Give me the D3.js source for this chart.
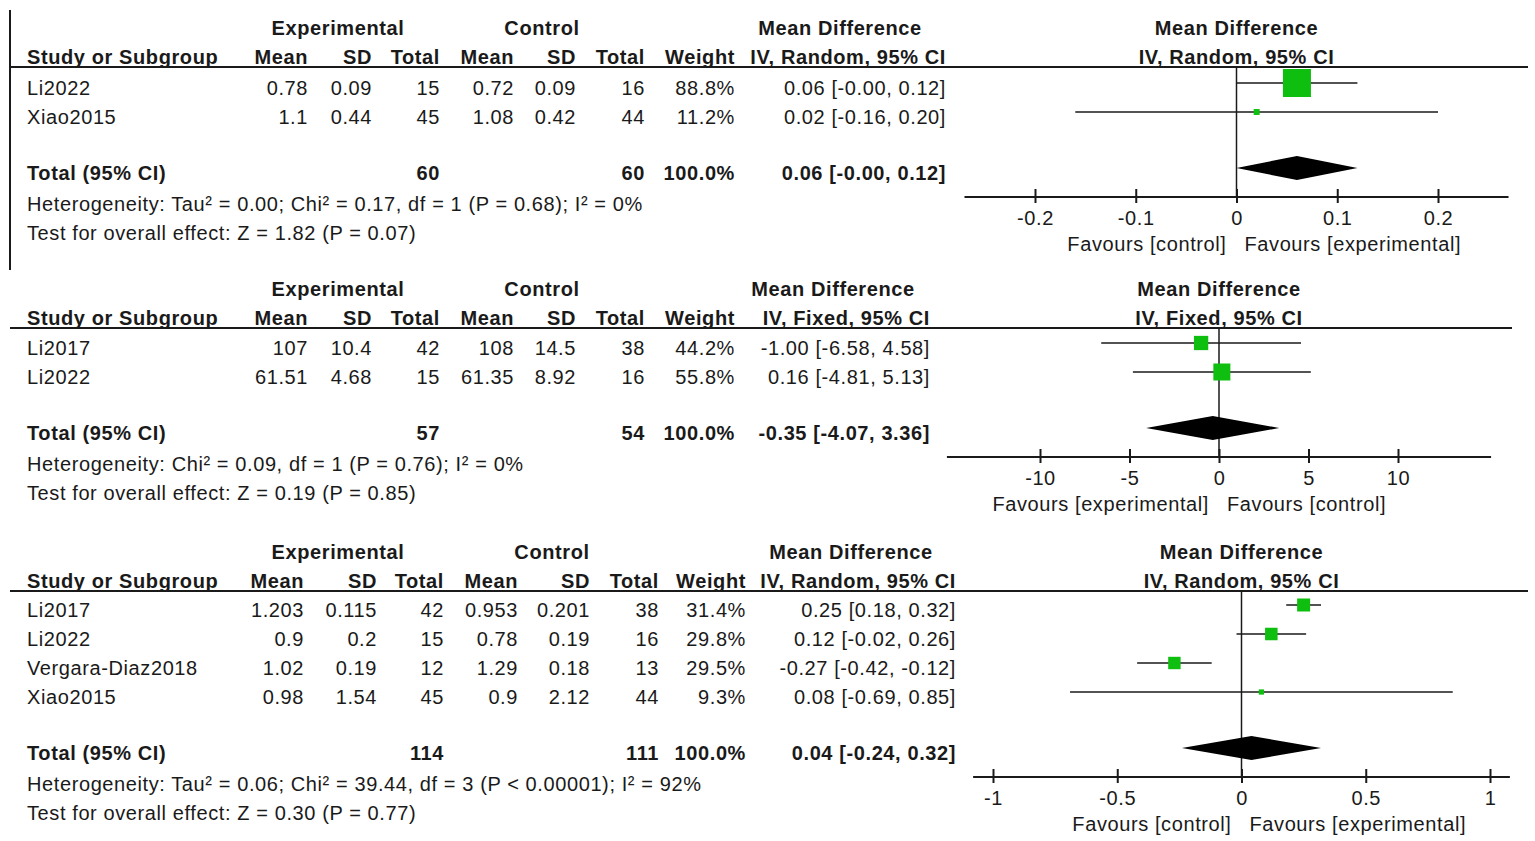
<!DOCTYPE html>
<html>
<head>
<meta charset="utf-8">
<script src="https://cdn.jsdelivr.net/npm/d3@7"></script>
<style>
  body { margin: 0; background: #fff; }
  svg text { font-family: "Liberation Sans", Arial, sans-serif; font-size: 20px; letter-spacing: 0.6px; fill: #1a1a1a; }
  svg text.b { font-weight: bold; }
</style>
</head>
<body>
<svg width="1535" height="841"></svg>
<script>
// ---- panel 1: IV, Random ----
const p1Studies = ["Li2022", "Xiao2015"];
const p1ExpMean = [0.78, 1.1];
const p1ExpSD = [0.09, 0.44];
const p1ExpN = [15, 45];
const p1CtlMean = [0.72, 1.08];
const p1CtlSD = [0.09, 0.42];
const p1CtlN = [16, 44];
const p1Weight = [88.8, 11.2];
const p1MD = [0.06, 0.02];
const p1Lo = [-0, -0.16];
const p1Hi = [0.12, 0.20];
const p1Total = { expN: 60, ctlN: 60, weight: 100.0, md: 0.06, lo: -0, hi: 0.12 };
const p1Het = "Heterogeneity: Tau\u00b2 = 0.00; Chi\u00b2 = 0.17, df = 1 (P = 0.68); I\u00b2 = 0%";
const p1Test = "Test for overall effect: Z = 1.82 (P = 0.07)";
const p1Ticks = [-0.2, -0.1, 0, 0.1, 0.2];
const p1Favours = ["Favours [control]", "Favours [experimental]"];

// ---- panel 2: IV, Fixed ----
const p2Studies = ["Li2017", "Li2022"];
const p2ExpMean = [107, 61.51];
const p2ExpSD = [10.4, 4.68];
const p2ExpN = [42, 15];
const p2CtlMean = [108, 61.35];
const p2CtlSD = [14.5, 8.92];
const p2CtlN = [38, 16];
const p2Weight = [44.2, 55.8];
const p2MD = [-1.00, 0.16];
const p2Lo = [-6.58, -4.81];
const p2Hi = [4.58, 5.13];
const p2Total = { expN: 57, ctlN: 54, weight: 100.0, md: -0.35, lo: -4.07, hi: 3.36 };
const p2Het = "Heterogeneity: Chi\u00b2 = 0.09, df = 1 (P = 0.76); I\u00b2 = 0%";
const p2Test = "Test for overall effect: Z = 0.19 (P = 0.85)";
const p2Ticks = [-10, -5, 0, 5, 10];
const p2Favours = ["Favours [experimental]", "Favours [control]"];

// ---- panel 3: IV, Random ----
const p3Studies = ["Li2017", "Li2022", "Vergara-Diaz2018", "Xiao2015"];
const p3ExpMean = [1.203, 0.9, 1.02, 0.98];
const p3ExpSD = [0.115, 0.2, 0.19, 1.54];
const p3ExpN = [42, 15, 12, 45];
const p3CtlMean = [0.953, 0.78, 1.29, 0.9];
const p3CtlSD = [0.201, 0.19, 0.18, 2.12];
const p3CtlN = [38, 16, 13, 44];
const p3Weight = [31.4, 29.8, 29.5, 9.3];
const p3MD = [0.25, 0.12, -0.27, 0.08];
const p3Lo = [0.18, -0.02, -0.42, -0.69];
const p3Hi = [0.32, 0.26, -0.12, 0.85];
const p3Total = { expN: 114, ctlN: 111, weight: 100.0, md: 0.04, lo: -0.24, hi: 0.32 };
const p3Het = "Heterogeneity: Tau\u00b2 = 0.06; Chi\u00b2 = 39.44, df = 3 (P < 0.00001); I\u00b2 = 92%";
const p3Test = "Test for overall effect: Z = 0.30 (P = 0.77)";
const p3Ticks = [-1, -0.5, 0, 0.5, 1];
const p3Favours = ["Favours [control]", "Favours [experimental]"];

const GREEN = "#0fbf0f";
const INK = "#1a1a1a";

// hyphen minus, keep "-0.00"
function f2(v) {
  const neg = v < 0 || Object.is(v, -0);
  return (neg ? "-" : "") + Math.abs(v).toFixed(2);
}

const panels = [
  {
    method: "IV, Random, 95% CI", top: 0, firstRow: 88, border: true, ruleEnd: 1528,
    cols: [308, 372, 440, 514, 576, 645, 735, 946], mdCenter: 840,
    expCenter: 338, ctlCenter: 542,
    domain: [-0.2, 0.2], range: [1035, 1438], axisExt: 0.27, maxBox: 28,
    studies: p1Studies, expMean: p1ExpMean, expSD: p1ExpSD, expN: p1ExpN,
    ctlMean: p1CtlMean, ctlSD: p1CtlSD, ctlN: p1CtlN, weight: p1Weight,
    md: p1MD, lo: p1Lo, hi: p1Hi, total: p1Total, het: p1Het, test: p1Test,
    ticks: p1Ticks, favours: p1Favours
  },
  {
    method: "IV, Fixed, 95% CI", top: 261, firstRow: 348, border: false, ruleEnd: 1512,
    cols: [308, 372, 440, 514, 576, 645, 735, 930], mdCenter: 833,
    expCenter: 338, ctlCenter: 542,
    domain: [-10, 10], range: [1040, 1398], axisExt: 15.2, maxBox: 17,
    studies: p2Studies, expMean: p2ExpMean, expSD: p2ExpSD, expN: p2ExpN,
    ctlMean: p2CtlMean, ctlSD: p2CtlSD, ctlN: p2CtlN, weight: p2Weight,
    md: p2MD, lo: p2Lo, hi: p2Hi, total: p2Total, het: p2Het, test: p2Test,
    ticks: p2Ticks, favours: p2Favours
  },
  {
    method: "IV, Random, 95% CI", top: 524, firstRow: 610, border: false, ruleEnd: 1528,
    cols: [304, 377, 444, 518, 590, 659, 746, 956], mdCenter: 851,
    expCenter: 338, ctlCenter: 552,
    domain: [-1, 1], range: [993, 1490], axisExt: 1.08, maxBox: 13,
    studies: p3Studies, expMean: p3ExpMean, expSD: p3ExpSD, expN: p3ExpN,
    ctlMean: p3CtlMean, ctlSD: p3CtlSD, ctlN: p3CtlN, weight: p3Weight,
    md: p3MD, lo: p3Lo, hi: p3Hi, total: p3Total, het: p3Het, test: p3Test,
    ticks: p3Ticks, favours: p3Favours
  }
];

const svg = d3.select("svg");

panels.forEach(p => {
  const g = svg.append("g");
  const h1 = p.top + 28, h2 = p.top + 57, rule = p.top + 67;
  const rowY = i => p.firstRow + 29 * i;
  const lastRow = rowY(p.studies.length - 1);
  const totalY = lastRow + 56;
  const axisY = totalY + 24;
  const x = d3.scaleLinear().domain(p.domain).range(p.range);
  const box = d3.scalePow().exponent(0.75).domain([0, d3.max(p.weight)]).range([0, p.maxBox]);

  function txt(xp, y, s, anchor, bold) {
    g.append("text")
      .attr("x", xp).attr("y", y).attr("dy", "0.35em")
      .attr("text-anchor", anchor || "start")
      .attr("class", bold ? "b" : null)
      .text(s);
  }

  if (p.border) {
    g.append("line").attr("x1", 10).attr("x2", 10).attr("y1", p.top + 10).attr("y2", p.top + 270)
      .attr("stroke", INK).attr("stroke-width", 2);
  }

  // headers
  txt(p.expCenter, h1, "Experimental", "middle", true);
  txt(p.ctlCenter, h1, "Control", "middle", true);
  txt(p.mdCenter, h1, "Mean Difference", "middle", true);
  txt(x(0), h1, "Mean Difference", "middle", true);
  txt(27, h2, "Study or Subgroup", "start", true);
  ["Mean", "SD", "Total", "Mean", "SD", "Total", "Weight", p.method].forEach((s, i) => {
    txt(p.cols[i], h2, s, "end", true);
  });
  txt(x(0), h2, p.method, "middle", true);

  g.append("line").attr("x1", 10).attr("x2", p.ruleEnd).attr("y1", rule).attr("y2", rule)
    .attr("stroke", INK).attr("stroke-width", 2);

  // study rows
  p.studies.forEach((s, i) => {
    const y = rowY(i);
    txt(27, y, s);
    const vals = [p.expMean[i], p.expSD[i], p.expN[i], p.ctlMean[i], p.ctlSD[i], p.ctlN[i],
      p.weight[i].toFixed(1) + "%", f2(p.md[i]) + " [" + f2(p.lo[i]) + ", " + f2(p.hi[i]) + "]"];
    vals.forEach((v, j) => txt(p.cols[j], y, String(v), "end"));
  });

  // total row
  const t = p.total;
  txt(27, totalY, "Total (95% CI)", "start", true);
  txt(p.cols[2], totalY, String(t.expN), "end", true);
  txt(p.cols[5], totalY, String(t.ctlN), "end", true);
  txt(p.cols[6], totalY, t.weight.toFixed(1) + "%", "end", true);
  txt(p.cols[7], totalY, f2(t.md) + " [" + f2(t.lo) + ", " + f2(t.hi) + "]", "end", true);
  txt(27, totalY + 31, p.het);
  txt(27, totalY + 60, p.test);

  // plot: zero line
  g.append("line").attr("x1", x(0)).attr("x2", x(0)).attr("y1", rule).attr("y2", axisY)
    .attr("stroke", INK).attr("stroke-width", 1.5);

  // CI lines and boxes
  p.studies.forEach((s, i) => {
    const y = rowY(i) - 5;
    g.append("line").attr("x1", x(p.lo[i])).attr("x2", x(p.hi[i])).attr("y1", y).attr("y2", y)
      .attr("stroke", INK).attr("stroke-width", 1.6);
    const b = box(p.weight[i]);
    g.append("rect").attr("x", x(p.md[i]) - b / 2).attr("y", y - b / 2)
      .attr("width", b).attr("height", b).attr("fill", GREEN);
  });

  // diamond
  const dy = totalY - 5;
  g.append("path")
    .attr("d", `M${x(t.lo)},${dy}L${x(t.md)},${dy - 12}L${x(t.hi)},${dy}L${x(t.md)},${dy + 12}Z`)
    .attr("fill", "#000");

  // axis
  g.append("line").attr("x1", x(-p.axisExt)).attr("x2", x(p.axisExt)).attr("y1", axisY).attr("y2", axisY)
    .attr("stroke", INK).attr("stroke-width", 2);
  const ax = g.append("g").attr("transform", `translate(0,${axisY})`)
    .call(d3.axisBottom(x).tickValues(p.ticks).tickFormat(d => String(d)).tickSize(6).tickSizeOuter(0));
  ax.select(".domain").remove();
  ax.selectAll(".tick line").attr("y1", -8).attr("y2", 6).attr("stroke", INK).attr("stroke-width", 2);
  ax.selectAll(".tick text").attr("y", 21).attr("dy", "0.35em")
    .style("font-family", "\"Liberation Sans\", Arial, sans-serif").style("font-size", "20px")
    .style("letter-spacing", "0.6px").attr("fill", INK);

  txt(x(0) - 10, axisY + 47, p.favours[0], "end");
  txt(x(0) + 8, axisY + 47, p.favours[1], "start");
});
</script>
</body>
</html>
